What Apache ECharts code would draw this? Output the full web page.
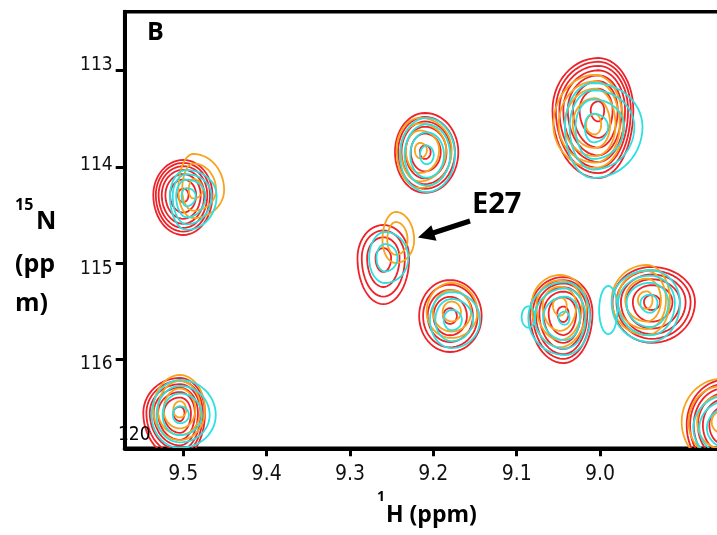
<!DOCTYPE html>
<html>
<head>
<meta charset="utf-8">
<title>1H-15N HSQC overlay, panel B</title>
<script src="https://cdn.jsdelivr.net/npm/echarts@6/dist/echarts.min.js"></script>
<style>
  html, body { margin: 0; padding: 0; background: #ffffff; }
  #chart { width: 717px; height: 535px; }
</style>
</head>
<body>
<div id="chart"></div>
<script>
// Peak lists, one per spectrum.
// Each peak: [1H ppm, 15N ppm, half-width toward left, toward right (1H ppm),
//             half-width upward, downward (15N ppm), height in contour levels]
const redPeaks = [
  [9.500, 114.292, 0.036, 0.035, 0.364, 0.416, 6.2],
  [9.210, 113.845, 0.036, 0.040, 0.405, 0.426, 5.15],
  [9.260, 114.947, 0.031, 0.031, 0.343, 0.480, 3.3],
  [9.180, 115.550, 0.037, 0.038, 0.374, 0.374, 4.2],
  [9.044, 115.519, 0.040, 0.035, 0.374, 0.520, 6.2],
  [8.938, 115.404, 0.047, 0.052, 0.364, 0.426, 5.2],
  [9.002, 113.409, 0.055, 0.042, 0.541, 0.707, 7.2],
  [9.504, 116.558, 0.044, 0.030, 0.364, 0.468, 6.2],
  [8.850, 116.683, 0.046, 0.046, 0.470, 0.500, 6.0]
];
const orangePeaks = [
  [9.488, 114.240, 0.018, 0.037, 0.374, 0.291, 2.2],
  [9.216, 113.824, 0.028, 0.038, 0.333, 0.395, 3.15],
  [9.245, 114.760, 0.016, 0.022, 0.291, 0.239, 1.7],
  [9.178, 115.508, 0.030, 0.031, 0.301, 0.270, 2.3],
  [9.048, 115.436, 0.034, 0.032, 0.312, 0.437, 3.2],
  [8.944, 115.384, 0.042, 0.028, 0.364, 0.364, 3.2],
  [9.006, 113.564, 0.050, 0.034, 0.520, 0.447, 4.2],
  [9.504, 116.527, 0.032, 0.030, 0.364, 0.312, 3.2],
  [8.854, 116.652, 0.048, 0.045, 0.450, 0.450, 3.2]
];
const cyanPeaks = [
  [9.496, 114.302, 0.020, 0.036, 0.270, 0.353, 3.3],
  [9.208, 113.876, 0.032, 0.034, 0.385, 0.385, 3.2],
  [9.258, 114.947, 0.019, 0.028, 0.270, 0.260, 1.4],
  [9.178, 115.592, 0.026, 0.034, 0.291, 0.291, 2.3],
  [9.042, 115.571, 0.044, 0.030, 0.374, 0.385, 3.1],
  [9.086, 115.560, 0.008, 0.008, 0.110, 0.110, 0.5],
  [8.990, 115.488, 0.011, 0.011, 0.250, 0.250, 0.5],
  [8.940, 115.415, 0.046, 0.036, 0.343, 0.405, 3.2],
  [9.008, 113.585, 0.034, 0.059, 0.457, 0.530, 3.3],
  [9.504, 116.579, 0.034, 0.043, 0.364, 0.343, 3.2],
  [8.846, 116.714, 0.042, 0.040, 0.340, 0.340, 3.2]
];

// Axis ranges and tick labels
const hRange = [8.8476, 9.5703];
const nRange = [112.387, 116.925];
const hTicks = [9.0, 9.1, 9.2, 9.3, 9.4, 9.5];
const nTicks = [113, 114, 115, 116];

const spectra = [
  { name: 'red', color: '#ee2329', peaks: redPeaks },
  { name: 'orange', color: '#f6a41e', peaks: orangePeaks },
  { name: 'cyan', color: '#2ae0e2', peaks: cyanPeaks }
];

const tickFont = "'Liberation Sans Narrow', 'DejaVu Sans Condensed', 'Liberation Sans', sans-serif";
const boldFont = "'Open Sans', 'Liberation Sans', sans-serif";

// Vertical nudges of the 15N tick labels (rich-text styles)
const nLabelStyle = { 113: 'u6', 114: 'u2', 115: 'd6', 116: 'd5' };

// Nested contour rings of a peak: level k sits at radius fraction sqrt(1 - k/height)
function makeRenderer(color) {
  return function (params, api) {
    const h = api.value(0), n = api.value(1);
    const rl = api.value(2), rr = api.value(3), ru = api.value(4), rd = api.value(5);
    const height = api.value(6);
    const children = [];
    const steps = 56;
    for (let k = 0; k < height; k++) {
      const f = Math.sqrt(1 - k / height);
      const pts = [];
      for (let i = 0; i < steps; i++) {
        const t = (i / steps) * Math.PI * 2;
        const c = Math.cos(t), s = Math.sin(t);
        const hh = h - c * (c > 0 ? rr : rl) * f;
        const nn = n + s * (s > 0 ? rd : ru) * f;
        pts.push(api.coord([hh, nn]));
      }
      children.push({
        type: 'polygon',
        shape: { points: pts },
        style: { fill: null, stroke: color, lineWidth: 1.8 },
        silent: true
      });
    }
    const cs = params.coordSys;
    return {
      type: 'group',
      clipPath: { type: 'rect', shape: { x: cs.x, y: cs.y, width: cs.width, height: cs.height } },
      children: children
    };
  };
}

const chart = echarts.init(document.getElementById('chart'), null, { renderer: 'canvas' });

const yRich = {};
[['u6', [0, 0, 12, 0]], ['u2', [0, 0, 4, 0]], ['d6', [12, 0, 0, 0]], ['d5', [10, 0, 0, 0]]]
  .forEach(([key, pad]) => {
    yRich[key] = { fontFamily: tickFont, fontSize: 19, color: '#111111', padding: pad };
  });

const option = {
  animation: false,
  backgroundColor: '#ffffff',
  grid: {
    left: 124.7, top: 11.7, width: 602.3, height: 436.6,
    outerBoundsMode: 'none',
    containLabel: false,
    show: true, borderColor: '#000000', borderWidth: 3.5, backgroundColor: 'transparent'
  },
  xAxis: {
    type: 'value',
    inverse: true,
    min: hRange[0], max: hRange[1],
    axisLine: { show: true, lineStyle: { color: '#000000', width: 4 } },
    axisTick: { show: true, length: 8, lineStyle: { color: '#000000', width: 3 }, customValues: hTicks },
    axisLabel: {
      customValues: hTicks, margin: 16,
      formatter: v => v.toFixed(1),
      fontFamily: tickFont, fontSize: 21, color: '#111111'
    },
    splitLine: { show: false }
  },
  yAxis: {
    type: 'value',
    inverse: true,
    min: nRange[0], max: nRange[1],
    axisLine: { show: true, lineStyle: { color: '#000000', width: 4 } },
    axisTick: { show: true, length: 9, lineStyle: { color: '#000000', width: 3 }, customValues: nTicks },
    axisLabel: {
      customValues: nTicks, margin: 12,
      formatter: v => '{' + (nLabelStyle[v] || 'u2') + '|' + v + '}',
      rich: yRich,
      fontFamily: tickFont, fontSize: 19, color: '#111111'
    },
    splitLine: { show: false }
  },
  series: spectra.map(sp => ({
    type: 'custom',
    name: sp.name,
    coordinateSystem: 'cartesian2d',
    renderItem: makeRenderer(sp.color),
    encode: { x: 0, y: 1 },
    data: sp.peaks,
    clip: true,
    silent: true
  })),
  graphic: [
    // panel letter
    { type: 'text', left: 147, top: 20, z: 10,
      style: { text: 'B', font: "bold 25px " + boldFont, fill: '#000000' } },
    // residue annotation and arrow
    { type: 'text', left: 472, top: 190, z: 10,
      style: { text: 'E27', font: "bold 29px " + boldFont, fill: '#000000' } },
    { type: 'line', z: 10,
      shape: { x1: 470, y1: 221, x2: 433, y2: 233 },
      style: { stroke: '#000000', lineWidth: 5 } },
    { type: 'polygon', z: 10,
      shape: { points: [[418, 237.5], [436.5, 240.8], [431.3, 225.3]] },
      style: { fill: '#000000' } },
    // stray level label in the lower-left corner of the frame
    { type: 'text', left: 118, top: 426, z: 10,
      style: { text: '120', font: "19px " + tickFont, fill: '#000000' } },
    // 1H axis title
    { type: 'text', left: 377, top: 490, z: 10,
      style: { text: '1', font: "bold 14px " + boldFont, fill: '#000000' } },
    { type: 'text', left: 386, top: 504, z: 10,
      style: { text: 'H (ppm)', font: "bold 23px " + boldFont, fill: '#000000' } },
    // 15N axis title
    { type: 'text', left: 15, top: 197, z: 10,
      style: { text: '15', font: "bold 16px " + boldFont, fill: '#000000' } },
    { type: 'text', left: 36, top: 209, z: 10,
      style: { text: 'N', font: "bold 25px " + boldFont, fill: '#000000' } },
    { type: 'text', left: 15, top: 252, z: 10,
      style: { text: '(pp', font: "bold 25px " + boldFont, fill: '#000000' } },
    { type: 'text', left: 15, top: 291, z: 10,
      style: { text: 'm)', font: "bold 25px " + boldFont, fill: '#000000' } }
  ]
};

chart.setOption(option);
</script>
</body>
</html>
